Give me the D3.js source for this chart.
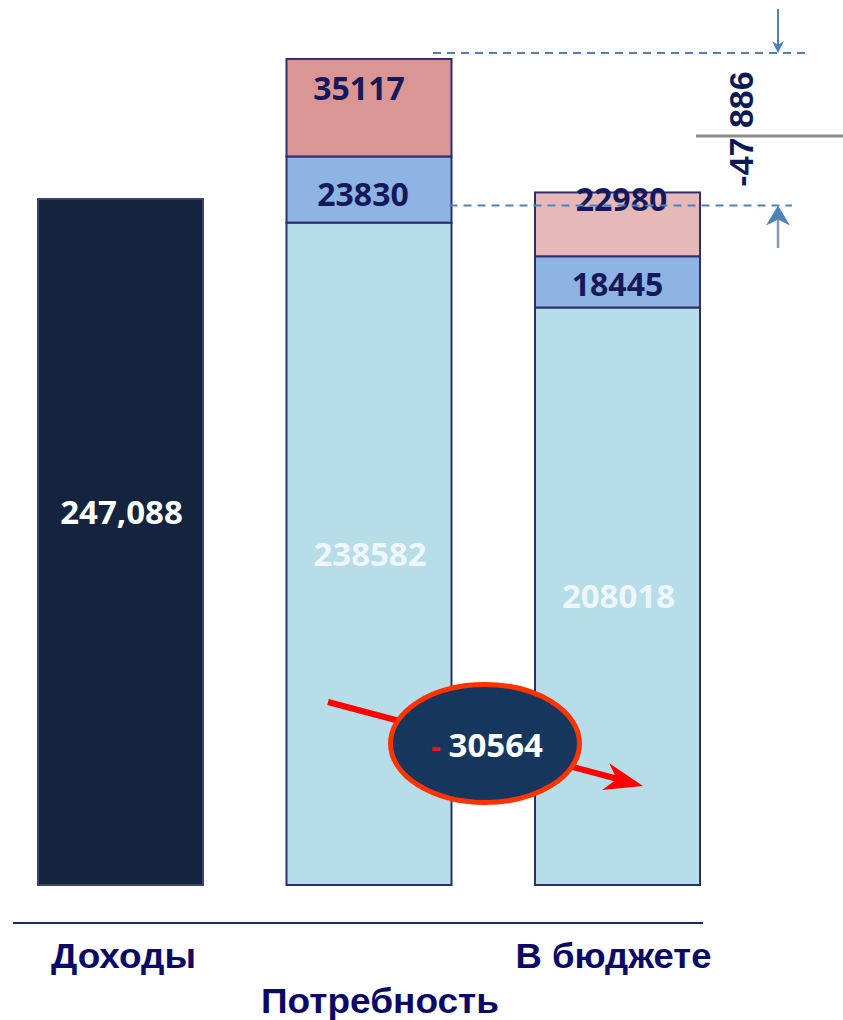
<!DOCTYPE html>
<html><head><meta charset="utf-8">
<script src="https://cdn.jsdelivr.net/npm/d3@7"></script>
<style>html,body{margin:0;padding:0;background:#fff;}svg{display:block;}</style>
</head><body>
<svg id="c" width="843" height="1020"></svg>
<script>
// ---- data ----
const categories = ["Доходы", "Потребность", "В бюджете"];
const baseValues  = [247088, 238582, 208018];
const midValues   = [0, 23830, 18445];
const topValues   = [0, 35117, 22980];
const baseLabels  = ["247,088", "238582", "208018"];
const gapLabel    = "-47 886";
const diffLabel   = "30564";

// ---- layout ----
const svg = d3.select("#c");
const x = d3.scaleBand().domain(categories).range([38, 700]).paddingInner(0.336).paddingOuter(0);
const y = d3.scaleLinear().domain([0, 247088]).range([885, 199]);

const segs = [];
categories.forEach((c, i) => {
  const vals = [baseValues[i], midValues[i], topValues[i]];
  let acc = 0;
  vals.forEach((v, k) => {
    if (v > 0) { segs.push({cat: c, i, k, y0: acc, y1: acc + v, v}); }
    acc += v;
  });
});

const fills = [
  ["#14243f", null, null],
  ["#b7dde8", "#8eb4e3", "#d99694"],
  ["#b7dde8", "#8eb4e3", "#e6b9b8"]
];

svg.append("g").selectAll("rect").data(segs).join("rect")
  .attr("x", d => x(d.cat))
  .attr("width", x.bandwidth())
  .attr("y", d => y(d.y1))
  .attr("height", d => y(d.y0) - y(d.y1))
  .attr("fill", d => fills[d.i][d.k])
  .attr("stroke", d => d.i === 0 ? "#3a4470" : "#2e2e6e")
  .attr("stroke-width", 2);

// base labels
const baseColor = ["#ffffff", "#eef6f9", "#eef6f9"];
const baseDy = [-30, 0, 0];
svg.append("g").selectAll("text").data(categories).join("text")
  .attr("x", (d) => x(d) + x.bandwidth() / 2 + 1)
  .attr("y", (d, i) => (y(0) + y(baseValues[i])) / 2 + baseDy[i] + 12)
  .attr("text-anchor", "middle")
  .attr("font-family", "'Open Sans', sans-serif")
  .attr("font-weight", 700)
  .attr("font-size", 33)
  .attr("fill", (d, i) => baseColor[i])
  .text((d, i) => baseLabels[i]);

// segment labels
const segLabels = segs.filter(d => d.k > 0);
const segPos = { // [dx, y offset from segment top to baseline]
  "1-1": [-6, 50], "1-2": [-10, 41], "2-1": [0, 40], "2-2": [4, 19]
};
svg.append("g").selectAll("text").data(segLabels).join("text")
  .attr("x", d => x(d.cat) + x.bandwidth() / 2 + segPos[d.i + "-" + d.k][0])
  .attr("y", d => y(d.y1) + segPos[d.i + "-" + d.k][1])
  .attr("text-anchor", "middle")
  .attr("font-family", "'Open Sans', sans-serif")
  .attr("font-weight", 700)
  .attr("font-size", 32)
  .attr("fill", "#14195a")
  .text(d => d3.format("d")(d.v));

// dashed guide lines
const tot2 = baseValues[1] + midValues[1] + topValues[1];
const tot3 = baseValues[2] + midValues[2] + topValues[2];
const yTop = y(tot2) - 6, yLow = y(tot3) + 13;
svg.append("line").attr("x1", 433).attr("x2", 805).attr("y1", yTop).attr("y2", yTop)
  .attr("stroke", "#4f81bd").attr("stroke-width", 2).attr("stroke-dasharray", "8,6");
svg.append("line").attr("x1", x("Потребность") + x.bandwidth() - 2).attr("x2", 792).attr("y1", yLow).attr("y2", yLow)
  .attr("stroke", "#4f81bd").attr("stroke-width", 2).attr("stroke-dasharray", "8,6");

// down arrow
svg.append("line").attr("x1", 778).attr("x2", 778).attr("y1", 9).attr("y2", yTop - 8)
  .attr("stroke", "#4f81bd").attr("stroke-width", 2);
svg.append("path").attr("d", `M778,${yTop} L772,${yTop-12} L778,${yTop-8} L784,${yTop-12} Z`).attr("fill", "#4f81bd");
// up arrow
svg.append("line").attr("x1", 778).attr("x2", 778).attr("y1", 248).attr("y2", yLow + 10)
  .attr("stroke", "#8298bb").attr("stroke-width", 2.5);
svg.append("path").attr("d", `M778,${yLow} L790,${yLow+20} L778,${yLow+14} L766,${yLow+20} Z`).attr("fill", "#4f81bd");

// gray tick line
svg.append("line").attr("x1", 696).attr("x2", 843).attr("y1", 136).attr("y2", 136)
  .attr("stroke", "#8c8c8c").attr("stroke-width", 3);

// rotated gap label
svg.append("text")
  .attr("transform", "translate(753,129) rotate(-90)")
  .attr("text-anchor", "middle")
  .attr("font-family", "'Liberation Sans', Arial, sans-serif")
  .attr("font-weight", 700)
  .attr("font-size", 34)
  .attr("fill", "#0d1a55")
  .text(gapLabel);

// red arrow
const ax0 = 328, ay0 = 702, ax1 = 643, ay1 = 786;
svg.append("line").attr("x1", ax0).attr("y1", ay0).attr("x2", 618).attr("y2", 779)
  .attr("stroke", "#ff0000").attr("stroke-width", 6);
svg.append("path").attr("d", `M${ax1},${ay1} L609,763 L617,779 L602,790 Z`).attr("fill", "#ff0000");

// ellipse
svg.append("ellipse").attr("cx", 485).attr("cy", 743.5).attr("rx", 94.5).attr("ry", 59)
  .attr("fill", "#17365d").attr("stroke", "#ff3300").attr("stroke-width", 5);
const t = svg.append("text").attr("x", 487).attr("y", 757).attr("text-anchor", "middle")
  .attr("font-family", "'Open Sans', sans-serif").attr("font-weight", 700).attr("font-size", 33);
t.append("tspan").attr("fill", "#e31b1b").attr("font-size", 30).attr("font-weight", 700).text("- ");
t.append("tspan").attr("fill", "#ffffff").text(diffLabel);

// axis line
svg.append("line").attr("x1", 13).attr("x2", 703).attr("y1", 923).attr("y2", 923)
  .attr("stroke", "#1f2b66").attr("stroke-width", 2);

// category labels
const catPos = [[3, 968, 145], [11, 1013, 238], [-4, 968, 196]];
svg.append("g").selectAll("text").data(categories).join("text")
  .attr("x", (d, i) => x(d) + x.bandwidth() / 2 + catPos[i][0])
  .attr("y", (d, i) => catPos[i][1])
  .attr("text-anchor", "middle")
  .attr("font-family", "'Liberation Sans', Arial, sans-serif")
  .attr("font-weight", 700)
  .attr("font-size", 35)
  .attr("fill", "#0a0a66")
  .attr("textLength", (d, i) => catPos[i][2])
  .attr("lengthAdjust", "spacingAndGlyphs")
  .text(d => d);
</script>
</body></html>
